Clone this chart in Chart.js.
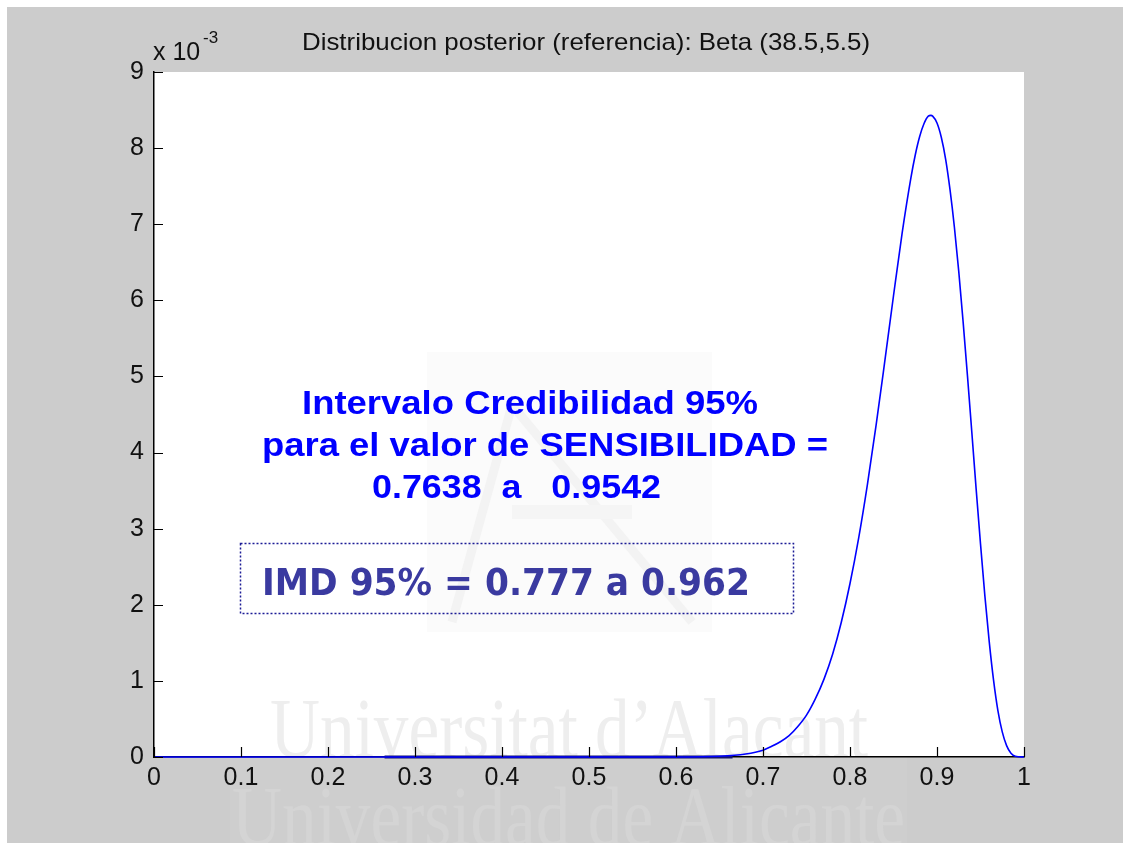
<!DOCTYPE html>
<html>
<head>
<meta charset="utf-8">
<script src="https://cdn.jsdelivr.net/npm/chart.js"></script>
<style>
  body { margin: 0; padding: 0; background: #cccccc; }
  canvas { display: block; }
</style>
</head>
<body>
<canvas id="posterior" width="1123" height="843"></canvas>
<script>
// Beta(38.5, 5.5) posterior (units of 10^-3)
const xs = [0, 0.6, 0.65, 0.68, 0.7, 0.71, 0.72, 0.73, 0.74, 0.75, 0.76, 0.77, 0.78, 0.79, 0.8,
  0.81, 0.82, 0.83, 0.84, 0.85, 0.86, 0.87, 0.875, 0.88, 0.885, 0.89, 0.893, 0.895, 0.9, 0.905,
  0.91, 0.915, 0.92, 0.925, 0.93, 0.935, 0.94, 0.945, 0.95, 0.955, 0.96, 0.965, 0.97, 0.975,
  0.98, 0.985, 0.99, 1];
const density = [0, 0, 0.01, 0.04, 0.09, 0.14, 0.20, 0.28, 0.40, 0.55, 0.76, 1.02, 1.35, 1.77, 2.28,
  2.88, 3.58, 4.36, 5.20, 6.06, 6.89, 7.61, 7.91, 8.15, 8.32, 8.42, 8.43, 8.42, 8.33, 8.14,
  7.85, 7.45, 6.96, 6.38, 5.72, 5.01, 4.27, 3.52, 2.80, 2.12, 1.52, 1.01, 0.61, 0.33,
  0.15, 0.05, 0.01, 0];

// dark stroke lying on the baseline
const baseXs = [0.265, 0.665];
const baseYs = [0, 0];

const xTicks = [0, 0.1, 0.2, 0.3, 0.4, 0.5, 0.6, 0.7, 0.8, 0.9, 1];
const xTickLabels = ['0', '0.1', '0.2', '0.3', '0.4', '0.5', '0.6', '0.7', '0.8', '0.9', '1'];
const yTicks = [0, 1, 2, 3, 4, 5, 6, 7, 8, 9];
const yTickLabels = ['0', '1', '2', '3', '4', '5', '6', '7', '8', '9'];

const title = 'Distribucion posterior (referencia): Beta (38.5,5.5)';
const noteLines = ['Intervalo Credibilidad 95%', 'para el valor de SENSIBILIDAD =', '0.7638  a   0.9542'];
const imdText = 'IMD 95% = 0.777 a 0.962';

const SANS = '"Liberation Sans", Arial, sans-serif';

function fitText(ctx, s, x, y, w) {
  const m = ctx.measureText(s).width;
  ctx.save();
  ctx.translate(x, y);
  ctx.scale(w / m, 1);
  ctx.fillText(s, 0, 0);
  ctx.restore();
}

const backdrop = {
  id: 'backdrop',
  beforeDraw(chart) {
    const ctx = chart.ctx, a = chart.chartArea;
    ctx.save();
    ctx.fillStyle = '#cccccc';
    ctx.fillRect(0, 0, chart.width, chart.height);
    ctx.fillStyle = '#ffffff';
    ctx.fillRect(0, 0, chart.width, 7);
    ctx.fillRect(0, 0, 7, chart.height);
    ctx.fillRect(a.left, a.top, a.right - a.left, a.bottom - a.top);

    // faint watermark (university logo + names)
    ctx.fillStyle = '#fbfbfb';
    ctx.fillRect(427, 352, 285, 280);
    ctx.strokeStyle = '#f3f3f3';
    ctx.lineWidth = 9;
    ctx.beginPath();
    ctx.moveTo(452, 622); ctx.lineTo(512, 405); ctx.lineTo(692, 622);
    ctx.stroke();
    ctx.fillStyle = '#f5f5f5';
    ctx.fillRect(512, 505, 120, 14);

    ctx.save();
    ctx.beginPath();
    ctx.rect(a.left, a.top, a.right - a.left, a.bottom - a.top);
    ctx.clip();
    ctx.fillStyle = '#eeeeee';
    ctx.font = '84px "Liberation Serif", serif';
    fitText(ctx, 'Universitat d\u2019Alacant', 270, 757, 598);
    ctx.restore();

    ctx.save();
    ctx.beginPath();
    ctx.rect(0, a.bottom, chart.width, chart.height - a.bottom);
    ctx.clip();
    ctx.fillStyle = '#cecece';
    ctx.fillRect(230, a.bottom, 677, chart.height - a.bottom);
    ctx.fillStyle = '#d4d4d4';
    ctx.font = '84px "Liberation Serif", serif';
    fitText(ctx, 'Universidad de Alicante', 232, 845, 673);
    ctx.restore();
    ctx.restore();
  },
  afterDraw(chart) {
    const ctx = chart.ctx, a = chart.chartArea;
    const xs_ = chart.scales.x, ys_ = chart.scales.y;
    ctx.save();
    // inward tick marks
    ctx.strokeStyle = '#000000';
    ctx.lineWidth = 1.2;
    ctx.beginPath();
    yTicks.forEach(v => {
      const p = Math.round(ys_.getPixelForValue(v)) + 0.5;
      ctx.moveTo(a.left, p); ctx.lineTo(a.left + 9, p);
    });
    xTicks.forEach(v => {
      const p = Math.round(xs_.getPixelForValue(v)) + 0.5;
      ctx.moveTo(p, a.bottom); ctx.lineTo(p, a.bottom - 10);
    });
    ctx.stroke();

    // title
    ctx.fillStyle = '#111111';
    ctx.textAlign = 'left';
    ctx.textBaseline = 'alphabetic';
    ctx.font = '24px ' + SANS;
    fitText(ctx, title, 302, 50, 568);

    // exponent label
    ctx.font = '25px ' + SANS;
    ctx.fillText('x 10', 153, 60);
    ctx.font = '17px ' + SANS;
    ctx.fillText('-3', 203, 43);

    // credibility interval note
    ctx.fillStyle = '#0000ff';
    ctx.font = 'bold 33px ' + SANS;
    fitText(ctx, noteLines[0], 302, 414, 456);
    fitText(ctx, noteLines[1], 262, 456, 566);
    fitText(ctx, noteLines[2], 372, 498, 289);

    // IMD box
    ctx.strokeStyle = '#1c1c96';
    ctx.lineWidth = 1.5;
    ctx.setLineDash([2, 2]);
    ctx.strokeRect(240.5, 543.5, 553, 70);
    ctx.setLineDash([]);
    ctx.fillStyle = '#3a3aa0';
    ctx.font = 'bold 38px "DejaVu Sans", sans-serif';
    fitText(ctx, imdText, 262, 595, 488);
    ctx.restore();
  }
};

new Chart(document.getElementById('posterior'), {
  type: 'line',
  data: {
    datasets: [
      {
        data: xs.map((x, i) => ({ x: x, y: density[i] })),
        borderColor: '#0000ff',
        borderWidth: 1.6,
        pointRadius: 0,
        cubicInterpolationMode: 'monotone',
        clip: false
      },
      {
        data: baseXs.map((x, i) => ({ x: x, y: baseYs[i] })),
        borderColor: '#14146a',
        borderWidth: 3,
        pointRadius: 0,
        clip: false
      }
    ]
  },
  plugins: [backdrop],
  options: {
    responsive: false,
    devicePixelRatio: 1,
    animation: false,
    layout: { padding: { left: 0, top: 72, right: 99, bottom: 0 } },
    plugins: { legend: { display: false }, tooltip: { enabled: false } },
    scales: {
      x: {
        type: 'linear',
        min: 0, max: 1,
        afterFit(scale) { scale.height = 86; },
        afterBuildTicks(scale) { scale.ticks = xTicks.map(v => ({ value: v })); },
        grid: { display: false, drawTicks: false },
        border: { display: true, color: '#000000', width: 1.5 },
        ticks: {
          padding: 6,
          color: '#111111',
          font: { family: SANS, size: 25 },
          maxRotation: 0,
          autoSkip: false,
          callback: (v, i) => xTickLabels[i]
        }
      },
      y: {
        min: 0, max: 9,
        afterFit(scale) { scale.width = 154; },
        afterBuildTicks(scale) { scale.ticks = yTicks.map(v => ({ value: v })); },
        grid: { display: false, drawTicks: false },
        border: { display: true, color: '#000000', width: 1.5 },
        ticks: {
          padding: 10,
          color: '#111111',
          font: { family: SANS, size: 25 },
          autoSkip: false,
          callback: (v, i) => yTickLabels[i]
        }
      }
    }
  }
});
</script>
</body>
</html>
